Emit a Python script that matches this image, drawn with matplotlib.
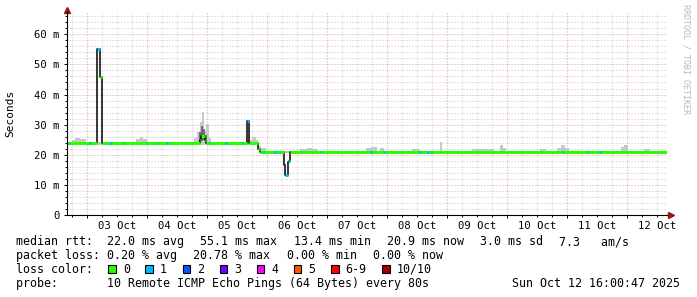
import numpy as np
import matplotlib
matplotlib.use('Agg')
import matplotlib.pyplot as plt
from matplotlib.ticker import FixedLocator, FuncFormatter, MultipleLocator
from matplotlib.patches import Rectangle

# time axis: hours since Oct 02 16:00 (graph start), 10 days shown
t_end = 240.0

# median rtt (ms), step values starting at each time
med_t = [0, 12.1, 13.3, 13.8, 53.0, 53.6, 55.0, 55.6, 72.0, 72.8,
         76.4, 77.2, 86.8, 87.2, 88.2, 88.8, 89.2]
med_v = [23.8, 55.1, 45.8, 23.8, 25.0, 26.3, 24.8, 23.8, 31.2, 23.8,
         22.0, 20.9, 16.5, 13.4, 17.5, 18.0, 20.9]
med_loss = [0, 1, 0, 0, 0, 0, 0, 0, 1, 0,
            0, 0, 3, 1, 1, 0, 0]

# short periods with 1 lost ping on the flat parts
loss1_t = [0.3, 8.9, 17.2, 22.3, 31.5, 35.9, 39.7, 56.6, 63.2, 69.9,
           78.3, 82.9, 84.7, 101.0, 121.2, 126.5, 140.8, 144.1, 145.5,
           197.9, 207.9, 212.9]

# smoke (spread of the single pings), light layer
smoke_t = [0, 2.0, 3.2, 5.2, 7.6, 27.6, 29.2, 30.4, 32.0, 50.8, 52.0, 53.2,
           54.0, 54.8, 55.6, 56.8, 57.6, 72.8, 74.0, 75.6, 76.4, 77.6, 79.6,
           93.2, 96.0, 98.4, 100.4, 119.6, 121.6, 124.0, 125.2, 126.8, 138.0,
           141.2, 149.2, 150.0, 162.0, 170.8, 173.2, 174.4, 175.6, 189.2,
           191.6, 196.0, 197.6, 199.2, 200.8, 221.6, 222.8, 224.4, 230.8, 233.2]
smoke_hi = [24.3, 25.0, 25.4, 25.2, 24.3, 25.3, 26.0, 25.2, 24.3, 25.5, 27.5, 31.0,
            34.3, 28.0, 30.3, 25.5, 24.3, 24.8, 25.8, 24.8, 22.8, 22.3, 21.3,
            21.8, 22.2, 21.9, 21.3, 22.3, 22.6, 21.3, 22.3, 21.3, 21.8,
            21.3, 24.3, 21.3, 21.8, 21.3, 23.2, 22.3, 21.3, 21.8,
            21.3, 22.3, 23.3, 22.3, 21.3, 22.5, 23.2, 21.3, 21.8, 21.3]
smoke_lo = [23.3] * 20 + [21.5] + [20.6] * 31

# darker inner smoke around the 04 Oct bump
dark_t = [52.8, 53.6, 54.4, 55.2, 56.0]
dark_lo = [24.0, 24.5, 25.0, 24.5, 24.0]
dark_hi = [27.5, 29.5, 28.5, 26.5, 26.5]

loss_colors = ['#26ff00', '#00b8ff', '#0059ff', '#7e00ff', '#ff00ff',
               '#ff5500', '#ff0000', '#a00000']
loss_labels = ['0', '1', '2', '3', '4', '5', '6-9', '10/10']

day_hours = [20, 44, 68, 92, 116, 140, 164, 188, 212, 236]
day_labels = ['03 Oct', '04 Oct', '05 Oct', '06 Oct', '07 Oct',
              '08 Oct', '09 Oct', '10 Oct', '11 Oct', '12 Oct']

legend_rows = [
    ["median rtt:  22.0 ms avg", "55.1 ms max", "13.4 ms min",
     "20.9 ms now", "3.0 ms sd", "7.3   am/s"],
    ["packet loss: 0.20 % avg", "20.78 % max", "0.00 % min", "0.00 % now"],
]
probe_text = "probe:       10 Remote ICMP Echo Pings (64 Bytes) every 80s"
date_text = "Sun Oct 12 16:00:47 2025"

MONO = 'DejaVu Sans Mono'
W, H = 697, 297


def fx(x):
    return x / W


def fy(y):
    return 1 - y / H


fig = plt.figure(figsize=(W / 100, H / 100), dpi=100)
fig.patch.set_facecolor('white')
ax = fig.add_axes([fx(67), fy(215), (667 - 67) / W, (215 - 12) / H])
ax.set_xlim(0, t_end)
ax.set_ylim(0, 67.4)

# grid
ax.set_axisbelow(True)
ax.xaxis.set_major_locator(FixedLocator(np.arange(8, t_end, 24)))
ax.xaxis.set_minor_locator(FixedLocator(np.arange(2, t_end, 6)))
ax.xaxis.set_major_formatter(FuncFormatter(lambda v, p: ''))
lbl = dict(zip(day_hours, day_labels))
ax.xaxis.set_minor_formatter(FuncFormatter(lambda v, p: lbl.get(int(round(v)), '')))
ax.yaxis.set_major_locator(MultipleLocator(10))
ax.yaxis.set_minor_locator(MultipleLocator(2))
ax.yaxis.set_major_formatter(FuncFormatter(lambda v, p: '0' if v == 0 else '%d m' % v))
ax.grid(which='minor', color='#c8c8c8', linestyle=(0, (1, 2)), lw=0.72)
ax.grid(which='major', color='#e49a9a', linestyle=(0, (1, 2)), lw=0.72)

for s in ['top', 'right']:
    ax.spines[s].set_visible(False)
for s in ['left', 'bottom']:
    ax.spines[s].set_color('black')
    ax.spines[s].set_linewidth(0.8)

ax.tick_params(axis='both', which='major', length=2.5, width=0.7, color='black')
ax.tick_params(axis='both', which='minor', length=1.5, width=0.7, color='black')
ax.tick_params(axis='y', which='major', pad=2.6, labelsize=7.6)
ax.tick_params(axis='x', which='minor', pad=2.6, labelsize=7.6)
for lab in ax.get_xticklabels(minor=True) + ax.get_yticklabels():
    lab.set_family(MONO)

# smoke
st = smoke_t + [t_end]
ax.fill_between(st, smoke_lo + [smoke_lo[-1]], smoke_hi + [smoke_hi[-1]],
                step='post', color='#c8c8c8', lw=0)
ax.fill_between(dark_t, dark_lo, dark_hi, step='post', color='#6e6e6e', lw=0)

# median line: black steps with loss-coloured horizontal parts
mt = med_t + [t_end]
mv = med_v + [med_v[-1]]
ax.step(mt, mv, where='post', color='black', lw=1.1)
for i in range(len(med_v)):
    ax.hlines(med_v[i], mt[i], mt[i + 1], color=loss_colors[med_loss[i]], lw=2.2)
for t in loss1_t:
    k = np.searchsorted(med_t, t, side='right') - 1
    ax.hlines(med_v[k], t, t + 0.6, color=loss_colors[1], lw=2.2)

# axis arrows
ax.plot([0], [1.0 + 2 / 203], marker='^', color='#8b1a1a', ms=4,
        transform=ax.transAxes, clip_on=False)
ax.plot([1.0 + 4 / 600], [0], marker='>', color='#8b1a1a', ms=4,
        transform=ax.transAxes, clip_on=False)

# labels
fig.text(fx(10), fy(113), 'Seconds', rotation=90, ha='center', va='center',
         family=MONO, fontsize=8)
fig.text(fx(686), fy(4), 'RRDTOOL / TOBI OETIKER', rotation=-90, ha='center',
         va='top', family=MONO, fontsize=6, color='#b8b8b8')

# legend
CW = 8.4 * 100 / 72 * 0.6021
GLUE = 15.9
for row, base in zip(legend_rows, [245.3, 259.3]):
    x = 16
    for s in row:
        fig.text(fx(x), fy(base), s, family=MONO, fontsize=8.4, va='baseline')
        x += len(s) * CW + GLUE

fig.text(fx(16), fy(273), 'loss color:', family=MONO, fontsize=8.4, va='baseline')
bx = 108.3
for c, s in zip(loss_colors, loss_labels):
    fig.patches.append(Rectangle((fx(bx), fy(272.5)), 7.5 / W, 7.5 / H,
                                 transform=fig.transFigure, facecolor=c,
                                 edgecolor='black', lw=0.8))
    fig.text(fx(bx + 14.6), fy(273), s, family=MONO, fontsize=8.4, va='baseline')
    bx += 14.6 + len(s) * CW + 15.5

fig.text(fx(16), fy(287), probe_text, family=MONO, fontsize=8.4, va='baseline')
fig.text(fx(680), fy(287), date_text, family=MONO, fontsize=8.4, va='baseline',
         ha='right')

fig.savefig('out.png', dpi=100)
